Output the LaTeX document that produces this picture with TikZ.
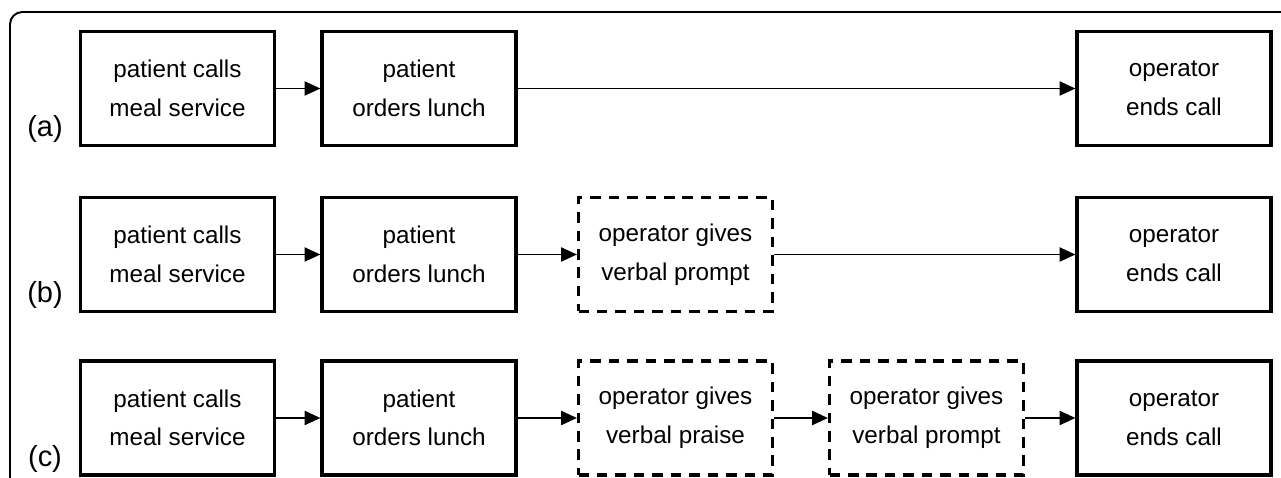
\documentclass[tikz,border=0pt]{standalone}
\usepackage{fontspec}
\setmainfont{Liberation Sans}
\usetikzlibrary{arrows.meta,positioning}

\tikzset{
  stage/.style={rectangle,draw=black,line width=1.8pt,minimum height=2.28cm,minimum width=3.88cm,align=center,font=\fontsize{13.8}{22}\selectfont},
  optstage/.style={stage,dash pattern=on 6pt off 4.5pt},
  flow/.style={-{Triangle[length=9pt,width=8pt]},line width=1.1pt},
  rowlabel/.style={font=\fontsize{16.5}{18}\selectfont}
}

\begin{document}
\begin{tikzpicture}
    \useasboundingbox (0,0) rectangle (25.62,-9.56);
    % frame
    \draw[line width=1.1pt,rounded corners=7pt] (0.2,-9.8) -- (0.2,-0.24) -- (25.9,-0.24);

    % row (a)
    \node[rowlabel] (la) at (0.9,-2.58) {(a)};
    \node[stage] (a1) at (3.55,-1.77) {patient calls\\meal service};
    \node[stage] (a2) at (8.38,-1.77) {patient\\orders lunch};
    \node[stage] (a5) at (23.48,-1.77) {operator\\ends call};
    \draw[flow] (a1) -- (a2);
    \draw[flow] (a2) -- (a5);

    % row (b)
    \node[rowlabel] (lb) at (0.9,-5.90) {(b)};
    \node[stage] (b1) at (3.55,-5.09) {patient calls\\meal service};
    \node[stage] (b2) at (8.38,-5.09) {patient\\orders lunch};
    \node[optstage] (b3) at (13.51,-5.09) {operator gives\\verbal prompt};
    \node[stage] (b5) at (23.48,-5.09) {operator\\ends call};
    \draw[flow] (b1) -- (b2);
    \draw[flow] (b2) -- (b3);
    \draw[flow] (b3) -- (b5);

    % row (c)
    \node[rowlabel] (lc) at (0.9,-9.17) {(c)};
    \node[stage] (c1) at (3.55,-8.36) {patient calls\\meal service};
    \node[stage] (c2) at (8.38,-8.36) {patient\\orders lunch};
    \node[optstage] (c3) at (13.51,-8.36) {operator gives\\verbal praise};
    \node[optstage] (c4) at (18.53,-8.36) {operator gives\\verbal prompt};
    \node[stage] (c5) at (23.48,-8.36) {operator\\ends call};
    \draw[flow] (c1) -- (c2);
    \draw[flow] (c2) -- (c3);
    \draw[flow] (c3) -- (c4);
    \draw[flow] (c4) -- (c5);
\end{tikzpicture}
\end{document}
